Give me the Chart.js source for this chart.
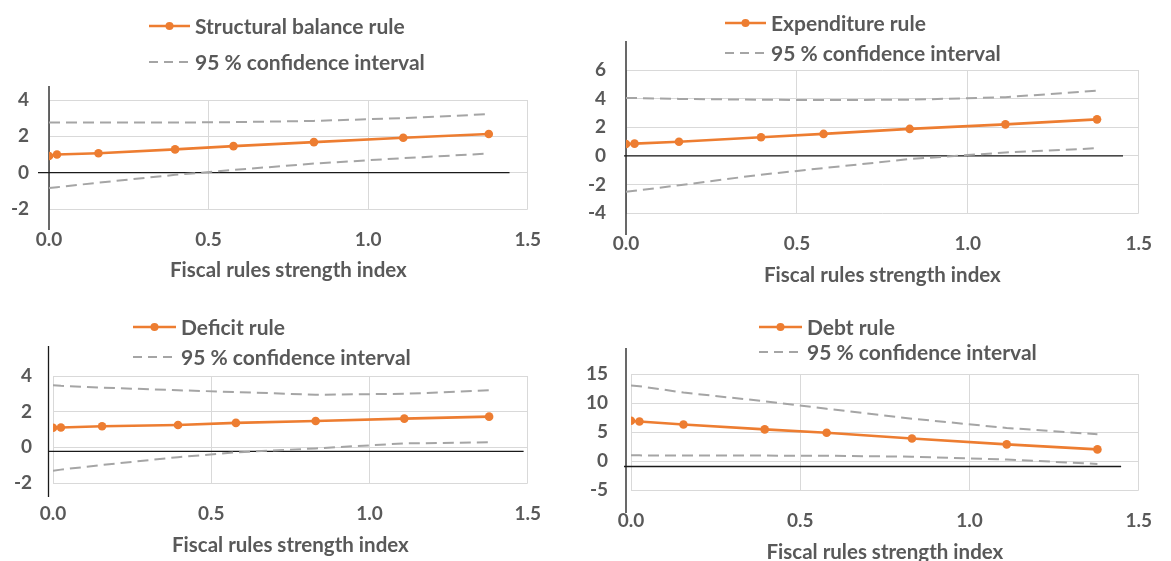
<!DOCTYPE html>
<html lang="en">
<head>
  <meta charset="UTF-8" />
  <title>Fiscal rules strength index</title>
  <style>
    body { margin: 0; background: #fff; overflow: hidden; width: 1171px; height: 561px; }
    canvas { position: absolute; }
  </style>
</head>
<body>
  <canvas id="c1" width="560" height="290" style="left:0;top:0"></canvas>
  <canvas id="c2" width="591" height="290" style="left:580px;top:0"></canvas>
  <canvas id="c3" width="560" height="261" style="left:0;top:300px"></canvas>
  <canvas id="c4" width="591" height="270" style="left:580px;top:300px"></canvas>

  <script src="https://cdn.jsdelivr.net/npm/chart.js"></script>
  <script>
    // values
    const xIndex = [0, 0.025, 0.155, 0.395, 0.578, 0.83, 1.11, 1.378];
    const xTicks = ['0.0', '0.5', '1.0', '1.5'];
    const xTitle = 'Fiscal rules strength index';
    const ciLabel = '95 % confidence interval';

    const structural = [0.92, 1.0, 1.07, 1.28, 1.46, 1.68, 1.92, 2.13];
    const structuralUpper = [2.76, 2.76, 2.76, 2.76, 2.78, 2.85, 3.0, 3.22];
    const structuralLower = [-0.85, -0.8, -0.55, -0.12, 0.15, 0.5, 0.8, 1.05];
    const structuralTicks = [-2, 0, 2, 4];

    const expenditure = [0.83, 0.85, 0.98, 1.3, 1.53, 1.88, 2.2, 2.55];
    const expenditureUpper = [4.05, 4.04, 3.98, 3.92, 3.9, 3.92, 4.1, 4.55];
    const expenditureLower = [-2.52, -2.45, -2.06, -1.32, -0.86, -0.23, 0.23, 0.53];
    const expenditureTicks = [-4, -2, 0, 2, 4, 6];

    const deficit = [1.1, 1.11, 1.18, 1.25, 1.37, 1.48, 1.61, 1.72];
    const deficitUpper = [3.48, 3.45, 3.35, 3.2, 3.1, 2.95, 3.0, 3.2];
    const deficitLower = [-1.31, -1.25, -0.99, -0.55, -0.28, -0.06, 0.22, 0.28];
    const deficitTicks = [-2, 0, 2, 4];

    const debt = [6.95, 6.8, 6.3, 5.45, 4.86, 3.88, 2.86, 2.0];
    const debtUpper = [13.0, 12.9, 11.8, 10.3, 9.0, 7.3, 5.7, 4.6];
    const debtLower = [0.97, 0.97, 0.95, 0.93, 0.9, 0.74, 0.25, -0.5];
    const debtTicks = [-5, 0, 5, 10, 15];

    const ORANGE = '#ED7D31', GREY = '#A5A5A5', TEXT = '#595959';
    const FONT = 'Lato, "Open Sans", sans-serif';

    Chart.defaults.font.family = FONT;
    Chart.defaults.font.weight = 'bold';
    Chart.defaults.color = TEXT;

    const pts = ys => ys.map((y, i) => ({ x: xIndex[i], y }));

    // black axis lines (slightly offset like the source) + two-row legend
    const panelDecor = {
      id: 'panelDecor',
      beforeDatasetsDraw(chart, args, o) {
        const { ctx, chartArea } = chart;
        const xs = chart.scales.x, ys = chart.scales.y;
        const x0 = xs.getPixelForValue(0) + o.dx;
        const y0 = ys.getPixelForValue(0) + o.dy;
        ctx.save();
        ctx.strokeStyle = '#1a1a1a';
        ctx.lineWidth = 1.3;
        ctx.beginPath();
        ctx.moveTo(x0, chartArea.top - o.up);
        ctx.lineTo(x0, chartArea.bottom + o.down);
        ctx.moveTo(x0 - o.stub, y0);
        ctx.lineTo(xs.getPixelForValue(o.xEnd), y0);
        ctx.stroke();
        ctx.restore();
      },
      afterDraw(chart, args, o) {
        const { ctx } = chart;
        const ds = chart.data.datasets;
        const tx = o.lx + o.len + 5;
        ctx.save();
        ctx.font = 'bold 21px ' + FONT;
        ctx.fillStyle = TEXT;
        ctx.textBaseline = 'middle';
        // row 1: main series
        ctx.strokeStyle = ORANGE;
        ctx.lineWidth = 2.5;
        ctx.beginPath();
        ctx.moveTo(o.lx, o.y1);
        ctx.lineTo(o.lx + o.len, o.y1);
        ctx.stroke();
        ctx.fillStyle = ORANGE;
        ctx.beginPath();
        ctx.arc(o.lx + o.len / 2, o.y1, 4, 0, Math.PI * 2);
        ctx.fill();
        ctx.fillStyle = TEXT;
        ctx.fillText(ds[0].label, tx, o.y1 + 1);
        // row 2: confidence band
        ctx.strokeStyle = GREY;
        ctx.lineWidth = 2;
        ctx.setLineDash([9, 6]);
        ctx.beginPath();
        ctx.moveTo(o.lx, o.y2);
        ctx.lineTo(o.lx + o.len, o.y2);
        ctx.stroke();
        ctx.setLineDash([]);
        ctx.fillText(ds[1].label, tx, o.y2 + 1);
        ctx.restore();
      }
    };

    function makePanel(id, name, main, upper, lower, yTicks, box, decor) {
      const ci = data => ({
        label: ciLabel, data: pts(data), borderColor: GREY, borderWidth: 2,
        borderDash: [11, 6], pointRadius: 0, fill: false
      });
      return new Chart(document.getElementById(id), {
        type: 'line',
        data: {
          datasets: [
            { label: name, data: pts(main), borderColor: ORANGE, backgroundColor: ORANGE,
              borderWidth: 2.6, pointRadius: 4.3, pointHoverRadius: 4.3, pointBorderWidth: 0 },
            ci(upper),
            ci(lower)
          ]
        },
        options: {
          responsive: false,
          animation: false,
          layout: { padding: { top: box.top, right: box.right, left: 0, bottom: 0 } },
          plugins: { legend: { display: false }, tooltip: { enabled: false }, panelDecor: decor },
          scales: {
            x: {
              type: 'linear', min: 0, max: 1.5,
              afterFit: s => { s.height = box.xh; },
              grid: { color: '#D9D9D9', drawTicks: false },
              border: { display: false },
              ticks: { stepSize: 0.5, padding: 19, font: { size: 19 },
                       callback: (v, i) => xTicks[i] },
              title: { display: true, text: xTitle, font: { size: 20.5 },
                       padding: { top: 0, bottom: box.tpad } }
            },
            y: {
              min: yTicks[0], max: yTicks[yTicks.length - 1],
              afterFit: s => { s.width = box.left; },
              grid: { color: '#D9D9D9', drawTicks: false },
              border: { display: false },
              ticks: { stepSize: yTicks[1] - yTicks[0], padding: box.ypad, font: { size: 19 } }
            }
          }
        },
        plugins: [panelDecor]
      });
    }

    makePanel('c1', 'Structural balance rule', structural, structuralUpper, structuralLower, structuralTicks,
      { top: 100, right: 26, left: 49, xh: 81, tpad: 7.7, ypad: 20 },
      { dx: 0, dy: 0, up: 14, down: 21, stub: 11, xEnd: 1.443, lx: 149, len: 41, y1: 26, y2: 62 });

    makePanel('c2', 'Expenditure rule', expenditure, expenditureUpper, expenditureLower, expenditureTicks,
      { top: 70, right: 14, left: 46, xh: 77, tpad: 2.7, ypad: 20 },
      { dx: 0, dy: 0, up: 29, down: 22, stub: 2, xEnd: 1.454, lx: 145, len: 41, y1: 23, y2: 53 });

    makePanel('c3', 'Deficit rule', deficit, deficitUpper, deficitLower, deficitTicks,
      { top: 76, right: 27, left: 53, xh: 78, tpad: 3.7, ypad: 21 },
      { dx: -4.5, dy: 4, up: 30, down: 14, stub: 0, xEnd: 1.487, lx: 133, len: 43, y1: 27, y2: 57 });

    makePanel('c4', 'Debt rule', debt, debtUpper, debtLower, debtTicks,
      { top: 74, right: 16, left: 51, xh: 80, tpad: 5.7, ypad: 23 },
      { dx: -5, dy: 5.5, up: 26, down: 23, stub: 2, xEnd: 1.448, lx: 179, len: 43, y1: 27, y2: 52 });
  </script>
</body>
</html>
